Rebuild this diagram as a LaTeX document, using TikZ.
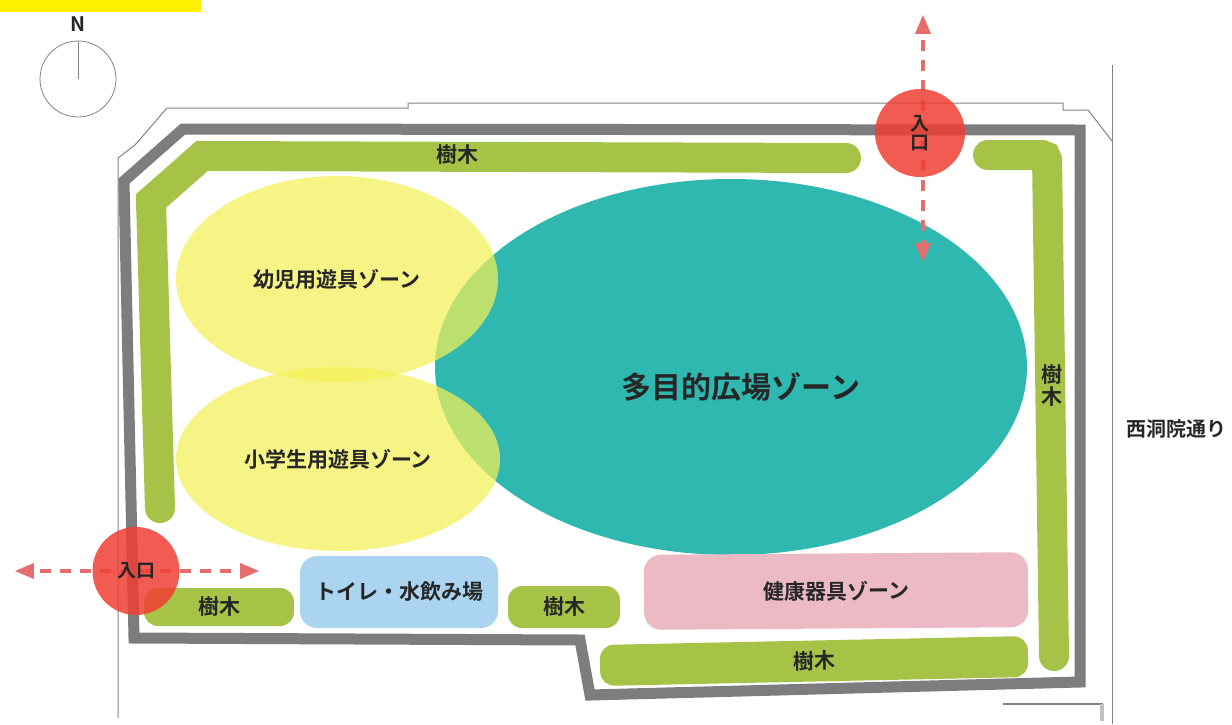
\documentclass[tikz,border=0pt]{standalone}
\usepackage{fontspec}
\setmainfont{Noto Sans CJK JP}[BoldFont={* Bold}]
\usetikzlibrary{arrows,shapes}
\definecolor{wallgrey}{RGB}{125,125,128}
\definecolor{linegrey}{RGB}{130,130,130}
\definecolor{treegreen}{RGB}{166,195,72}
\definecolor{zoneyellow}{RGB}{243,240,85}
\definecolor{zoneteal}{RGB}{47,184,176}
\definecolor{zoneblue}{RGB}{170,212,240}
\definecolor{zonepink}{RGB}{236,186,196}
\definecolor{gatered}{RGB}{240,62,50}
\definecolor{arrowred}{RGB}{228,110,110}
\tikzset{
  lbl/.style={font=\bfseries\fontsize{#1}{#1}\selectfont,text=black!85,inner sep=0pt},
  lbl/.default=21,
  outline/.style={draw=linegrey,line width=1pt},
  wall/.style={draw=wallgrey,line width=11pt,miter limit=10},
  treeline/.style={draw=treegreen,line width=30pt,line cap=round,miter limit=10},
  treebox/.style={fill=treegreen,rounded corners=14pt,lbl,minimum height=#1},
  softbox/.style={rounded corners=17pt,lbl},
  zone/.style={ellipse,inner sep=0pt,lbl},
  gate/.style={ellipse,inner sep=0pt,fill=gatered,fill opacity=.85,text opacity=1,lbl=19,align=center},
  walk/.style={draw=arrowred,line width=3.5pt,dash pattern=on 11pt off 9pt,<->,>=triangle 45}
}
\begin{document}
\begin{tikzpicture}[x=1pt,y=-1pt]
\useasboundingbox (0,0) rectangle (1232,724);
\fill[yellow] (0,0) rectangle (201,12);
% compass
\node[lbl=20] (north) at (78,24) {N};
\node[circle,draw=linegrey,line width=.8pt,minimum size=76pt,inner sep=0pt] (dial) at (78,79) {};
\draw[linegrey,line width=.6pt] (dial.north) -- (dial.center);
% site outline
\draw[outline] (118,718) -- (118,158) -- (135,145) -- (167,108) -- (408,108) -- (408,103) -- (1063,103) -- (1063,110) -- (1088,110) -- (1112,141);
\draw[outline] (1112,65) -- (1112,724);
\draw[linegrey,line width=1.5pt] (1003,704) -- (1103,704);
\draw[linegrey!50,line width=4pt] (1102,704) -- (1102,721);
\draw[wall] (183,129) -- (1080,130) -- (1080,682) -- (590,695) -- (580,640) -- (134,638) -- (124,181) -- cycle;
% trees
\draw[treeline] (846,158) -- (202,156) -- (151,201) -- (160,508);
\draw[treeline,rounded corners=5pt] (988,155) -- (1047,155) -- (1054,656);
\node[treebox=38pt,minimum width=150pt] (treeW) at (219,607) {樹木};
\node[treebox=42pt,minimum width=112pt] (treeM) at (564,607) {樹木};
\node[treebox=41pt,minimum width=428pt,rotate=1.2] (treeS) at (814,661) {樹木};
\node[lbl] (treeN) at (457,155) {樹木};
\node[lbl,align=center] (treeE) at (1052,386) {樹\\[1pt]木};
% zones
\node[zone,fill=zoneteal,minimum width=592pt,minimum height=376pt] (plaza) at (731,367) {};
\node[lbl=30] (plazaText) at (741,387) {多目的広場ゾーン};
\node[zone,fill=zoneyellow,fill opacity=.72,text opacity=1,minimum width=322pt,minimum height=206pt] (infant) at (337,279) {幼児用遊具ゾーン};
\node[zone,fill=zoneyellow,fill opacity=.72,text opacity=1,minimum width=324pt,minimum height=184pt] (pupil) at (338,459) {小学生用遊具ゾーン};
\node[softbox,fill=zoneblue,minimum width=198pt,minimum height=72pt] (toilet) at (399,592) {トイレ・水飲み場};
\node[softbox,fill=zonepink,minimum width=384pt,minimum height=75pt,rotate=.4] (health) at (836,591) {健康器具ゾーン};
\node[lbl=20] (road) at (1176,429) {西洞院通り};
% entrances
\coordinate (walkNa) at (923,15);
\coordinate (walkNb) at (923,262);
\coordinate (walkWa) at (15,571);
\coordinate (walkWb) at (259,571);
\draw[walk] (walkNa) -- (walkNb);
\draw[walk] (walkWa) -- (walkWb);
\node[gate,minimum width=90pt,minimum height=88pt] (gateN) at (920,133) {入\\口};
\node[gate,minimum width=87pt,minimum height=88pt] (gateW) at (136,571) {入口};
\end{tikzpicture}
\end{document}
